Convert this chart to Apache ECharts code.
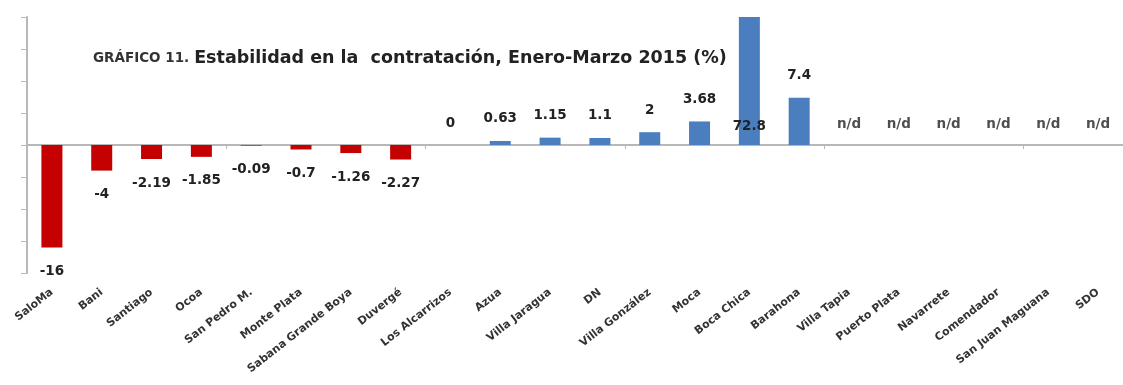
<!DOCTYPE html>
<html>
<head>
<meta charset="utf-8">
<script src="https://cdn.jsdelivr.net/npm/echarts@6/dist/echarts.min.js"></script>
<style>
  html, body { margin: 0; padding: 0; background: #fff; }
  #chart { width: 1123px; height: 385px; }
</style>
</head>
<body>
<div id="chart"></div>
<script>
// Municipios / provincias
const categories = [
  'SaloMa', 'Bani', 'Santiago', 'Ocoa', 'San Pedro M.', 'Monte Plata',
  'Sabana Grande Boya', 'Duvergé', 'Los Alcarrizos', 'Azua', 'Villa Jaragua',
  'DN', 'Villa González', 'Moca', 'Boca Chica', 'Barahona', 'Villa Tapia',
  'Puerto Plata', 'Navarrete', 'Comendador', 'San Juan Maguana', 'SDO'
];
// Estabilidad en la contratación (%), null = sin dato (n/d)
const values = [
  -16, -4, -2.19, -1.85, -0.09, -0.7, -1.26, -2.27, 0, 0.63, 1.15,
  1.1, 2, 3.68, 72.8, 7.4, null, null, null, null, null, null
];
const yMin = -20, yMax = 20, yStep = 5;

const RED = '#C40000';
const BLUE = '#4A7EBF';
const LABEL_FONT = { fontFamily: 'DejaVu Sans', fontWeight: 'bold', fontSize: 13.5, color: '#222' };

const barData = values.map(v => {
  if (v === null) return '-';
  if (v > yMax) {
    // value beyond the axis: bar is clipped, label sits low inside it
    return { value: v, label: { position: 'insideBottom', distance: 12 } };
  }
  if (v < 0) {
    return { value: v, label: { position: 'bottom', distance: 17 } };
  }
  return v;
});
const naData = values.map((v, i) => v === null ? [categories[i], 0] : null).filter(Boolean);

const chart = echarts.init(document.getElementById('chart'), null, { renderer: 'canvas' });
chart.setOption({
  animation: false,
  backgroundColor: '#ffffff',
  title: {
    text: '{a|GRÁFICO 11.} {b|Estabilidad en la  contratación, Enero-Marzo 2015 (%)}',
    left: 88,
    top: 44,
    textStyle: {
      rich: {
        a: { fontFamily: 'DejaVu Sans', fontWeight: 'bold', fontSize: 13.5, color: '#333' },
        b: { fontFamily: 'DejaVu Sans', fontWeight: 'bold', fontSize: 17.5, color: '#222' }
      }
    }
  },
  grid: { left: 27, top: 17, width: 1111, height: 256, containLabel: false },
  xAxis: [
    {
      type: 'category',
      data: categories,
      position: 'bottom',
      axisLine: { show: false, onZero: false },
      axisTick: { show: false },
      axisLabel: {
        interval: 0,
        rotate: 38,
        margin: 18,
        fontFamily: 'DejaVu Sans',
        fontWeight: 'bold',
        fontSize: 11,
        color: '#333'
      }
    },
    {
      type: 'category',
      data: categories,
      position: 'top',
      axisLine: { show: true, onZero: true, lineStyle: { color: '#b8b8b8', width: 2 } },
      axisTick: { show: true, inside: true, length: 4, lineStyle: { color: '#b8b8b8' } },
      axisLabel: { show: false }
    }
  ],
  yAxis: {
    type: 'value',
    min: yMin,
    max: yMax,
    interval: yStep,
    axisLine: { show: true, lineStyle: { color: '#b8b8b8', width: 2 } },
    axisTick: { show: true, length: 6, lineStyle: { color: '#b8b8b8' } },
    axisLabel: { show: false },
    splitLine: { show: false }
  },
  series: [
    {
      type: 'bar',
      xAxisIndex: 0,
      data: barData,
      barWidth: 21,
      clip: true,
      itemStyle: {
        color: p => (p.value < 0 ? RED : BLUE)
      },
      label: Object.assign({
        show: true,
        position: 'top',
        distance: 15,
        formatter: p => String(p.value)
      }, LABEL_FONT)
    },
    {
      type: 'scatter',
      xAxisIndex: 0,
      data: naData,
      symbolSize: 0,
      silent: true,
      label: Object.assign({
        show: true,
        position: 'top',
        distance: 14,
        formatter: 'n/d'
      }, LABEL_FONT)
    }
  ]
});
</script>
</body>
</html>
